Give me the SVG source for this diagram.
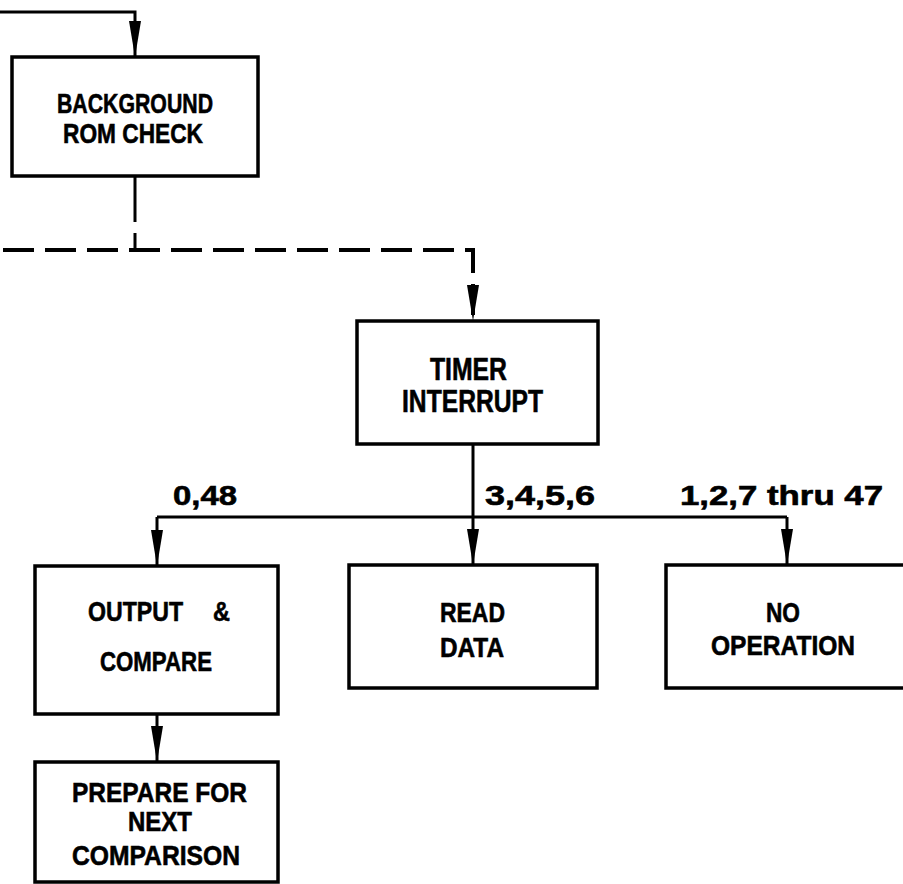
<svg xmlns="http://www.w3.org/2000/svg" width="903" height="884" viewBox="0 0 903 884">
  <defs>
    <marker id="arrow" markerUnits="userSpaceOnUse" viewBox="0 0 36 12" markerWidth="36" markerHeight="12" refX="36" refY="6" orient="auto">
      <path d="M0,0 L36,6 L0,12 Z" fill="#000"/>
    </marker>
    <style>
      .box { fill: #fff; stroke: #000; stroke-width: 3.5; }
      .lbl { font-family: "Liberation Sans Narrow", "Liberation Sans", "DejaVu Sans Condensed", sans-serif; font-weight: bold; font-size: 28px; fill: #000; stroke: #000; stroke-width: 0.6; }
      .big { font-size: 31px; }
      .wire { fill: none; stroke: #000; stroke-width: 3; }
      .dash { stroke-dasharray: 31 11; stroke-width: 4; }
      .arr { marker-end: url(#arrow); }
    </style>
  </defs>

  <g id="connectors">
    <!-- loop return into background check -->
    <polyline class="wire arr" points="0,12 135,12 135,57"/>
    <!-- dashed path from background check to timer interrupt -->
    <line class="wire" x1="135" y1="176" x2="135" y2="250" stroke-dasharray="46 11" stroke-width="3.5"/>
    <polyline class="wire dash arr" points="3,250 473,250 473,321"/>
    <!-- timer interrupt branches -->
    <line class="wire" x1="473" y1="444" x2="473" y2="517"/>
    <line class="wire" x1="157" y1="517" x2="787" y2="517"/>
    <polyline class="wire arr" points="157,517 157,566"/>
    <polyline class="wire arr" points="473,517 473,565"/>
    <polyline class="wire arr" points="787,517 787,565"/>
    <!-- output/compare to prepare -->
    <polyline class="wire arr" points="157,714 157,762"/>
  </g>

  <g id="labels">
    <text class="lbl" x="173" y="505" textLength="64" lengthAdjust="spacingAndGlyphs">0,48</text>
    <text class="lbl" x="485" y="505" textLength="110" lengthAdjust="spacingAndGlyphs">3,4,5,6</text>
    <text class="lbl" x="680" y="505" textLength="203" lengthAdjust="spacingAndGlyphs">1,2,7 thru 47</text>
  </g>

  <g id="background-rom-check">
    <rect class="box" x="12" y="57" width="246" height="119"/>
    <text class="lbl" x="57" y="113" textLength="156" lengthAdjust="spacingAndGlyphs">BACKGROUND</text>
    <text class="lbl" x="63" y="143" textLength="140" lengthAdjust="spacingAndGlyphs">ROM CHECK</text>
  </g>

  <g id="timer-interrupt">
    <rect class="box" x="357" y="321" width="241" height="123"/>
    <text class="lbl big" x="430" y="380" textLength="77" lengthAdjust="spacingAndGlyphs">TIMER</text>
    <text class="lbl big" x="402" y="412" textLength="141" lengthAdjust="spacingAndGlyphs">INTERRUPT</text>
  </g>

  <g id="output-compare">
    <rect class="box" x="35" y="566" width="243" height="148"/>
    <text class="lbl" y="621"><tspan x="88" textLength="95" lengthAdjust="spacingAndGlyphs">OUTPUT</tspan> <tspan x="213" textLength="17" lengthAdjust="spacingAndGlyphs">&amp;</tspan></text>
    <text class="lbl" x="100" y="671" textLength="112" lengthAdjust="spacingAndGlyphs">COMPARE</text>
  </g>

  <g id="read-data">
    <rect class="box" x="349" y="565" width="248" height="123"/>
    <text class="lbl" x="440" y="622" textLength="65" lengthAdjust="spacingAndGlyphs">READ</text>
    <text class="lbl" x="440" y="657" textLength="64" lengthAdjust="spacingAndGlyphs">DATA</text>
  </g>

  <g id="no-operation">
    <rect class="box" x="666" y="565" width="260" height="123"/>
    <text class="lbl" x="766" y="622" textLength="34" lengthAdjust="spacingAndGlyphs">NO</text>
    <text class="lbl" x="711" y="655" textLength="144" lengthAdjust="spacingAndGlyphs">OPERATION</text>
  </g>

  <g id="prepare-next-comparison">
    <rect class="box" x="35" y="762" width="243" height="120"/>
    <text class="lbl" x="72" y="802" textLength="175" lengthAdjust="spacingAndGlyphs">PREPARE FOR</text>
    <text class="lbl" x="128" y="831" textLength="64" lengthAdjust="spacingAndGlyphs">NEXT</text>
    <text class="lbl" x="72" y="865" textLength="168" lengthAdjust="spacingAndGlyphs">COMPARISON</text>
  </g>
</svg>
